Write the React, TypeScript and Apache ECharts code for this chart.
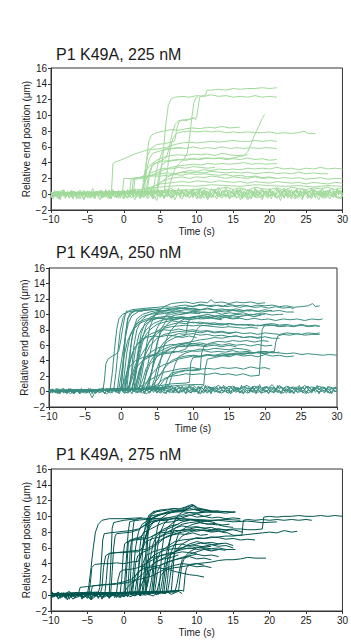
import React, { useEffect, useRef } from "react";
import * as echarts from "echarts";

const titles = ["P1 K49A, 225 nM", "P1 K49A, 250 nM", "P1 K49A, 275 nM"];
const lineColors = ["#a1d99b", "#3b8e80", "#02554f"];
const xName = "Time (s)";
const yName = "Relative end position (μm)";

// Baseline (unbound) noisy traces: start time, sample step, values
const p1Base = [
  { t0: -10, dt: 0.5, v: [0.1,-0.3,0.4,0.0,-0.2,0.3,-0.4,0.2,0.5,-0.1,0.2,-0.3,0.1,0.4,-0.2,0.3,-0.1,0.6,-0.3,0.2,0.0,-0.4,0.3,0.1,-0.2,0.4,-0.1,0.2,-0.3,0.5,0.1,-0.2,0.3,-0.4,0.2,0.0,0.4,-0.3,0.1,0.3,-0.2,0.5,-0.1,0.2,-0.4,0.3,0.1,-0.2,0.4,0.0,-0.3,0.2,0.6,-0.1,0.1,-0.4,0.3,0.2,-0.2,0.4,-0.1,0.3,-0.3,0.1,0.5,-0.2,0.2,0.0,-0.4,0.3,0.1,-0.2,0.4,-0.1,0.2,-0.3,0.5,0.0,-0.2,0.3,0.1] },
  { t0: -10, dt: 0.5, v: [-0.2,0.3,-0.1,0.5,-0.3,0.1,0.4,-0.2,0.2,-0.5,0.3,0.0,-0.2,0.4,-0.1,0.2,-0.4,0.3,0.1,-0.3,0.5,-0.1,0.2,-0.2,0.4,-0.3,0.0,0.3,-0.1,0.2,-0.4,0.3,0.1,-0.2,0.5,-0.1,0.2,-0.3,0.4,0.0,0.2,-0.2,0.3,-0.5,0.1,0.4,-0.1,0.2,-0.3,0.3,0.0,0.5,-0.2,0.2,-0.1,0.3,-0.4,0.1,0.4,-0.2,0.3,-0.1,0.0,0.5,-0.3,0.2,-0.2,0.4,0.1,-0.1,0.3,-0.4,0.2,0.0,0.4,-0.2,0.1,-0.3,0.3,0.2,-0.1] },
  { t0: -10, dt: 0.5, v: [0.3,-0.1,0.2,0.5,-0.2,0.1,0.4,-0.3,0.2,0.0,0.4,-0.2,0.3,0.1,-0.4,0.2,0.5,-0.1,0.3,0.0,0.4,0.1,0.6,0.2,0.5,-0.1,0.4,0.3,0.7,0.1,0.5,0.2,0.4,0.8,0.1,0.5,0.3,0.6,0.0,0.4,0.7,0.2,0.5,0.1,0.6,0.3,0.9,0.2,0.4,0.5,0.1,0.6,0.3,0.7,0.2,0.5,0.0,0.4,0.6,0.2,0.5,0.3,0.8,0.1,0.4,0.6,0.2,0.5,0.3,0.7,0.1,0.4,0.6,0.2,0.5,0.0,0.4,0.7,0.3,0.5,0.2] },
  { t0: -10, dt: 0.5, v: [-0.3,0.1,-0.5,-0.1,0.2,-0.4,0.0,-0.2,0.3,-0.6,-0.1,0.1,-0.3,0.2,-0.5,0.0,-0.2,0.1,-0.4,0.2,-0.1,-0.5,0.0,-0.2,0.2,-0.4,-0.1,0.1,-0.6,-0.2,0.1,-0.3,0.0,-0.5,-0.1,0.2,-0.3,0.0,-0.4,0.1,-0.2,-0.6,0.0,-0.1,-0.4,0.2,-0.3,-0.1,0.0,-0.5,-0.2,0.1,-0.3,0.0,-0.7,-0.1,0.2,-0.4,-0.2,0.1,-0.3,0.0,-0.5,-0.1,0.2,-0.3,-0.1,-0.6,0.0,-0.2,0.1,-0.4,-0.1,0.2,-0.3,-0.5,0.0,-0.2,0.1,-0.6,-0.1] },
  { t0: -10, dt: 0.25, v: [0.3,-0.4,0.5,-0.2,0.4,-0.5,0.2,0.6,-0.3,0.4,-0.1,0.5,-0.4,0.3,-0.6,0.4,0.1,-0.3,0.5,-0.2,
    0.4,-0.5,0.3,0.7,-0.2,0.4,-0.4,0.2,0.5,-0.3,0.6,-0.1,0.3,-0.5,0.4,0.0,-0.4,0.5,-0.2,0.3,
    -0.5,0.4,0.1,-0.3,0.6,-0.2,0.5,-0.4,0.3,-0.6,0.4,-0.1,0.5,-0.3,0.2,0.6,-0.4,0.3,-0.2,0.5,
    -0.3,0.4,-0.5,0.2,0.6,-0.1,0.4,-0.4,0.5,-0.2,0.3,-0.5,0.6,-0.1,0.4,-0.3,0.2,0.5,-0.4,0.3,
    -0.2,0.6,-0.4,0.3,-0.1,0.5,-0.5,0.4,0.0,-0.3,0.6,-0.2,0.4,-0.4,0.3,0.5,-0.3,0.2,-0.5,0.4,
    0.1,-0.4,0.5,-0.2,0.3,-0.6,0.4,0.2,-0.3,0.5,-0.1,0.4,-0.4,0.6,-0.2,0.3,-0.5,0.4,0.1,-0.3,
    0.5,-0.2,0.4,-0.4,0.3,0.6,-0.3,0.2,-0.5,0.4,-0.1,0.5,-0.3,0.3,-0.4,0.6,-0.2,0.4,-0.5,0.2,
    0.5,-0.3,0.4,-0.1,0.6,-0.4,0.3,-0.2,0.5,-0.5,0.4,0.1,-0.3,0.5,-0.2,0.3,-0.4,0.6,-0.1,0.4,-0.3] },
  { t0: -10, dt: 0.25, v: [-0.5,0.2,-0.3,0.4,-0.6,0.1,-0.2,0.5,-0.4,0.2,-0.5,0.3,-0.1,0.4,-0.3,0.1,-0.6,0.3,-0.2,0.2,
    -0.4,0.4,-0.2,0.1,-0.5,0.3,-0.3,0.5,-0.1,0.2,-0.4,0.3,-0.6,0.1,-0.2,0.4,-0.3,0.2,-0.5,0.1,
    0.5,-0.2,0.6,0.0,0.4,-0.3,0.7,0.1,0.5,-0.2,0.6,0.2,-0.1,0.5,0.0,0.7,-0.2,0.4,0.1,0.6,
    -0.1,0.5,0.2,0.7,-0.2,0.4,0.0,0.6,0.3,-0.1,0.8,0.1,0.5,-0.2,0.6,0.2,0.4,-0.1,0.7,0.0,
    0.5,0.2,0.8,-0.1,0.6,0.1,0.4,-0.2,0.7,0.3,0.5,0.0,0.6,-0.1,0.4,0.2,0.9,0.0,0.5,0.1,
    0.6,-0.2,0.5,0.2,0.7,0.0,0.4,-0.1,0.6,0.3,0.5,-0.2,0.8,0.1,0.4,0.0,0.6,0.2,0.5,-0.1,
    0.7,0.1,0.4,-0.2,0.6,0.3,0.5,0.0,0.8,-0.1,0.5,0.2,0.6,0.0,0.4,0.7,-0.2,0.5,0.1,0.6,
    0.0,0.5,0.2,0.7,-0.1,0.6,0.3,0.4,-0.2,0.8,0.1,0.5,0.0,0.6,0.2,0.4,-0.1,0.7,0.3,0.5,0.0] },
  { t0: -10, dt: 0.25, v: [-0.2,-0.6,0.1,-0.4,-0.1,-0.7,0.0,-0.3,-0.5,0.2,-0.4,-0.1,-0.6,0.0,-0.3,-0.5,0.1,-0.2,-0.7,-0.1,
    -0.4,0.1,-0.5,-0.2,-0.6,0.0,-0.3,-0.7,-0.1,-0.4,0.1,-0.5,-0.2,-0.6,0.0,-0.4,-0.1,-0.5,0.2,-0.3,
    -0.6,-0.1,-0.4,0.1,-0.5,-0.2,-0.7,0.0,-0.3,-0.5,0.1,-0.4,-0.1,-0.6,-0.2,0.0,-0.5,-0.3,-0.8,-0.1,
    -0.4,0.1,-0.6,-0.2,-0.3,0.0,-0.5,-0.1,-0.7,-0.2,0.1,-0.4,-0.6,-0.1,-0.3,0.0,-0.5,-0.2,-0.4,0.1,
    -0.6,-0.2,-0.4,0.0,-0.5,-0.1,-0.7,-0.3,0.1,-0.4,-0.2,-0.6,0.0,-0.3,-0.5,-0.1,-0.4,0.1,-0.6,-0.2,
    -0.3,0.0,-0.5,-0.2,-0.7,-0.1,-0.4,0.1,-0.5,-0.3,-0.6,0.0,-0.2,-0.5,-0.1,-0.4,-0.7,0.0,-0.3,-0.5,
    -0.1,-0.6,0.1,-0.3,-0.5,-0.2,-0.8,-0.1,-0.4,0.0,-0.5,-0.2,-0.6,0.1,-0.3,-0.5,-0.1,-0.4,-0.7,0.0,
    -0.3,-0.5,-0.1,-0.6,0.0,-0.4,-0.2,-0.7,-0.1,-0.3,0.1,-0.5,-0.2,-0.6,-0.1,-0.4,0.0,-0.5,-0.3,-0.6,-0.2] },
];

// Binding traces, flat [t, y, t, y, ...]
const p1Traces = [
  [-10,0.1, -1.7,0.2, -1.5,3.9, -1.2,4.1, -0.5,4.3, 0.5,4.7, 1.5,5.1, 2.5,5.4, 3.5,5.7, 4.5,5.7, 5.5,5.9, 6.5,5.8, 7.5,5.9, 8.5,5.8, 9.5,6.0, 10.5,5.8, 11.5,5.9, 12.5,5.8, 13.5,6.0, 14.5,5.8, 15.5,5.9, 16.5,5.8, 17.5,5.9, 18.5,5.8, 19.5,5.9, 21,5.8],
  [-10,0.2, 4.6,0.4, 4.9,2.0, 5.2,3.6, 5.5,6.2, 5.8,9.2, 6.1,11.3, 6.5,12.1, 7,12.3, 8,12.4, 9,12.3, 10,12.5, 11,12.4, 12,12.6, 13,12.4, 14,12.5, 15,12.3, 16,12.4, 17,12.3, 18,12.5, 19,12.3, 20,12.4, 21,12.3],
  [-10,0.1, 3.2,0.3, 3.5,2.4, 3.9,3.6, 4.5,4.0, 5.2,4.3, 5.8,4.6, 6.2,5.8, 6.6,7.6, 7,8.8, 7.5,9.3, 8,9.4, 8.5,9.3, 9,9.5, 9.5,9.6, 10,9.7, 10.2,11.0, 10.4,12.3, 10.8,12.5, 11.2,12.6, 11.4,13.2, 12,13.2, 13,13.3, 14,13.2, 15,13.4, 16,13.3, 17,13.4, 18,13.4, 19,13.5, 20,13.4, 21,13.5],
  [-10,0, 6,0.2, 6.5,1.8, 7,3.2, 7.6,3.9, 8.2,4.4, 8.7,5.2, 9,7.0, 9.3,9.5, 9.6,11.6, 9.9,12.2, 10.2,12.4],
  [-10,0.1, 2.5,0.3, 2.8,1.5, 3.1,4.2, 3.4,6.6, 3.8,7.5, 4.5,7.8, 5.5,8.0, 6.5,8.2, 7.5,8.1, 8.5,8.3, 9.5,8.4, 10.5,8.3, 11.5,8.5, 12.5,8.4, 13.5,8.6, 14.5,8.4, 15.9,8.5],
  [-10,0, 5.5,0.3, 5.9,2.6, 6.3,5.4, 6.7,7.0, 7.2,7.7, 8,7.9, 9,8.0, 10,7.9, 11,8.0, 12,7.9, 13,8.0, 14,7.8, 15,7.9, 16,7.8, 17,7.9, 18,7.8, 19,7.8, 20,7.9, 21,7.7, 22,7.8, 23,7.7, 24,7.8, 24.7,8.0, 25.3,7.7, 26.3,7.7],
  [-10,0.1, 4,0.2, 4.3,2.0, 4.7,4.0, 5.3,5.4, 6,6.0, 7,6.3, 8,6.5, 9,6.6, 10,6.5, 11,6.6, 12,6.7, 13,6.6, 14,6.7, 15,6.8, 16,6.7, 17,6.7, 18,6.8, 19,6.7, 20,6.8, 21,6.7],
  [-10,0, 3,0.2, 3.4,2.5, 3.9,3.8, 4.5,4.0, 5.5,4.2, 6.5,4.3, 7.5,4.4, 8.5,4.3, 9.5,4.5, 10.5,4.4, 11.5,4.6, 12.5,4.5, 13.5,4.6, 14.5,4.5, 15.5,4.7, 16.5,4.9, 17,5.4, 17.5,6.5, 18,7.6, 18.5,8.6, 19,9.6, 19.3,10.1],
  [-10,0.1, 4.5,0.3, 4.8,2.4, 5.2,3.7, 5.8,4.1, 7,4.3, 8,4.4, 9,4.5, 10,4.4, 11,4.6, 12,4.5, 13,4.6, 14,4.4, 15,4.5, 16,4.4, 17,4.6, 18,4.4, 19,4.5, 20,4.3, 21,4.4],
  [-10,0, 2.8,0.3, 3.1,3.0, 3.6,3.7, 4.5,4.3, 5.5,4.7, 6.5,4.9, 7.5,5.0, 8.5,4.9, 9.5,5.1, 10.5,5.0, 11.5,5.1, 12.5,4.9, 13.5,5.2, 14.5,5.0, 15.5,4.9, 17,5.0],
  [-10,0, 4,0.3, 5,1.4, 6,2.2, 7,2.6, 8,2.8, 9,3.0, 10,2.9, 11,3.1, 12,3.0, 13,3.2, 14,3.1, 15,3.2, 16,3.1, 17,3.3, 18,3.2, 19,3.3, 20,3.2, 21,3.4, 22,3.2, 23,3.3, 24,3.1, 25,3.3, 26,3.2, 27,3.4, 28,3.2, 29,3.3, 30,3.2],
  [-10,0.1, -0.2,0.2, 0,2.0, 1,2.0, 2,2.1, 3,2.2, 4,2.3, 5,2.3, 6,2.4, 7,2.5, 8,2.4, 9,2.6, 10,2.5, 11,2.6, 12,2.5, 13,2.4, 14,2.5, 15,2.3, 16,2.4, 17,2.2, 18,2.3, 19,2.1, 20,2.2, 21,2.0, 22,2.1, 23,2.0, 24,2.1, 25,1.9, 26,2.0, 27,2.1, 28,1.9, 29,2.0, 30,2.0],
  [-10,0, 1.1,0.2, 1.3,2.0, 2,2.1, 3,2.3, 4,2.4, 5,2.6, 6,2.7, 7,2.6, 8,2.8, 9,2.7, 10,2.8, 11,2.7, 12,2.9, 13,2.8, 14,2.7, 15,2.8, 16,2.7, 17,2.8, 18,2.6, 19,2.7, 20,2.8, 21,2.6, 22,2.7, 23,2.6, 24,2.8, 25,2.6, 26,2.7, 27,2.6, 28,2.6],
  [-10,0.1, 2,0.3, 3,0.7, 4,1.0, 5,1.3, 6,1.4, 7,1.5, 8,1.6, 9,1.5, 10,1.7, 11,1.6, 12,1.5, 13,1.7, 14,1.6, 15,1.5, 16,1.6, 17,1.4, 18,1.6, 19,1.5, 20,1.4, 21,1.6, 22,1.5, 23,1.4, 24,1.5, 25,1.3, 26,1.5, 27,1.4, 28,1.3, 29,1.5, 30,1.4],
  [-10,0, 1.3,0.2, 1.5,1.9, 2.5,2.0, 3.5,2.3, 4.5,2.7, 5.5,3.1, 6.5,3.4, 7.5,3.6, 8.5,3.7, 9.5,3.8, 10.5,3.7, 11.5,3.9, 12.5,3.8, 13.5,3.9, 14.5,3.8, 15.5,3.9, 16.5,4.0, 17.5,3.8, 18.5,3.9, 19.5,3.8, 21,3.9],
  [-10,0.1, 3,0.3, 4,0.9, 5,1.5, 6,1.9, 7,2.1, 8,2.2, 9,2.0, 10,2.2, 11,2.1, 12,2.3, 13,2.2, 14,2.0, 15,2.2, 16,2.1, 17,2.0, 18,2.2, 19,2.0, 20,2.1, 21,2.0],
  [-10,0, 0,0.3, 2,0.6, 4,0.8, 6,1.0, 8,1.1, 10,1.0, 12,1.2, 14,1.1, 16,1.0, 18,1.2, 20,1.1, 22,1.0, 24,1.1, 26,0.9, 28,1.1, 30,1.0],
  [-10,0.1, 1.5,0.2, 2.5,0.5, 3,1.8, 3.5,2.6, 4.5,3.0, 5.5,3.3, 6.5,3.2, 7.5,3.4, 8.5,3.3, 9.5,3.5, 10.5,3.4, 11.5,3.3, 12.5,3.4],
  [-10,0, 2.5,0.3, 2.7,1.8, 3,3.5, 3.3,5.0, 3.7,5.8, 4.5,6.3, 5.5,6.4, 6.5,6.6, 7,6.8, 7.3,8.5, 7.6,9.2, 8,9.4, 9,9.5, 9.5,9.7, 10,9.4],
  [-10,0.1, 0.8,0.3, 1,1.9, 1.5,2.0, 2.5,2.2, 3,2.6, 3.5,4.5, 4,5.2, 5,5.5, 6,5.7, 7,5.8, 8,5.9],
  [-10,0, 5,0.4, 10,0.6, 11,0.8, 12,0.5, 13,0.7, 14,0.9, 15,0.6, 16,0.8, 17,0.5, 18,0.9, 19,0.7, 20,0.6, 21,0.8, 22,0.5, 23,0.9, 24,0.7, 25,0.6, 26,0.8, 27,0.7, 28,0.9, 29,0.6, 30,0.8],
];

const p2Base = [
  { t0: -10, dt: 0.5, v: [0.0,0.2,-0.2,0.3,-0.1,0.1,-0.3,0.2,0.0,-0.2,0.3,-0.1,0.1,-0.2,0.2,0.0,-0.3,0.1,0.3,-0.1,0.2,-0.2,0.0,0.3,-0.1,0.1,-0.2,0.2,0.0,0.3,-0.1,0.2,-0.2,0.1,0.3,-0.1,0.0,0.2,-0.2,0.1,0.3,0.0,-0.1,0.2,-0.2,0.3,0.1,-0.1,0.2,0.0,-0.2,0.3,0.1,-0.1,0.2,-0.2,0.0,0.3,-0.1,0.1,0.2,-0.2,0.3,0.0,-0.1,0.2,0.1,-0.2,0.3,-0.1,0.0,0.2,-0.2,0.1,0.3,-0.1,0.2,0.0,-0.2,0.1,0.0] },
  { t0: -10, dt: 0.5, v: [-0.1,0.3,0.0,-0.2,0.2,-0.1,0.1,-0.3,0.3,0.0,-0.2,0.1,-0.8,0.2,-0.1,0.0,0.3,-0.2,0.1,-0.1,0.2,0.0,-0.2,0.3,0.1,-0.1,0.2,-0.3,0.0,0.2,0.1,-0.2,0.3,0.0,-0.1,0.2,-0.2,0.1,0.3,-0.1,0.0,0.2,-0.3,0.1,0.2,-0.1,0.3,0.0,-0.2,0.2,0.1,-0.1,0.4,0.0,-0.2,0.2,0.1,-0.1,0.3,-0.2,0.0,0.2,-0.1,0.3,0.1,-0.2,0.2,0.0,-0.1,0.3,0.1,-0.2,0.2,0.0,0.3,-0.1,0.1,0.2,-0.2,0.1,0.0] },
  { t0: -10, dt: 0.5, v: [0.1,0.3,-0.1,0.2,0.4,0.0,0.2,-0.1,0.3,0.1,0.0,0.3,0.1,-0.2,0.2,0.4,0.0,0.1,0.3,-0.1,0.2,0.4,0.1,0.3,0.5,0.2,0.4,0.1,0.6,0.3,0.4,0.2,0.5,0.3,0.7,0.2,0.4,0.5,0.3,0.6,0.4,0.2,0.5,0.8,0.3,0.4,0.6,0.2,0.5,0.4,0.7,0.3,0.5,0.2,0.6,0.4,0.3,0.7,0.5,0.2,0.6,0.4,0.5,0.3,0.8,0.4,0.2,0.5,0.6,0.3,0.5,0.4,0.7,0.2,0.5,0.3,0.6,0.4,0.2,0.5,0.3] },
  { t0: 3, dt: 0.5, v: [0.3,0.6,0.4,0.7,0.5,0.3,0.6,0.8,0.4,0.5,0.7,0.3,0.6,0.5,0.9,0.4,0.6,0.3,0.7,0.5,0.4,0.8,0.5,0.6,0.3,0.7,0.5,0.4,0.6,0.8,0.5,0.3,0.7,0.4,0.6,0.5,0.9,0.3,0.6,0.4,0.7,0.5,0.4,0.6,0.3,0.8,0.5,0.6,0.4,0.7,0.5,0.3,0.6,0.4,0.5] },
  { t0: -10, dt: 0.25, v: [0.2,-0.2,0.3,-0.1,0.4,-0.3,0.1,0.3,-0.2,0.2,-0.3,0.4,0.0,-0.2,0.3,-0.1,0.2,-0.3,0.4,-0.1,
    0.3,-0.2,0.1,0.4,-0.3,0.2,-0.1,0.3,-0.2,0.4,0.0,-0.3,0.2,-0.1,0.3,-0.2,0.4,-0.1,0.2,-0.3,
    0.3,0.0,-0.2,0.4,-0.1,0.2,-0.3,0.3,0.1,-0.2,0.4,-0.1,0.2,-0.3,0.3,0.0,-0.2,0.4,-0.1,0.2,
    -0.2,0.3,-0.1,0.4,0.0,-0.3,0.2,-0.1,0.3,-0.2,0.4,0.1,-0.2,0.3,-0.1,0.2,-0.3,0.4,0.0,-0.2,
    0.3,-0.1,0.2,-0.3,0.4,0.0,-0.2,0.3,-0.1,0.2,-0.3,0.4,-0.1,0.2,0.0,-0.2,0.3,-0.1,0.4,-0.2,
    0.2,-0.3,0.3,0.0,-0.1,0.4,-0.2,0.2,-0.3,0.3,0.1,-0.2,0.4,-0.1,0.2,-0.3,0.3,0.0,-0.2,0.4,
    -0.1,0.2,-0.3,0.3,0.1,-0.2,0.4,-0.1,0.2,-0.3,0.3,0.0,-0.2,0.4,-0.1,0.2,-0.3,0.3,-0.1,0.2,
    0.4,-0.2,0.1,-0.3,0.3,0.0,-0.2,0.4,-0.1,0.2,-0.3,0.3,0.1,-0.2,0.4,-0.1,0.2,-0.3,0.3,0.0,0.1] },
  { t0: -10, dt: 0.25, v: [-0.1,0.3,-0.2,0.2,0.0,0.4,-0.3,0.1,0.3,-0.2,0.2,-0.1,0.4,0.0,-0.2,0.3,0.1,-0.3,0.2,0.0,
    0.3,-0.2,0.4,0.1,-0.1,0.3,-0.2,0.2,0.4,0.0,0.5,0.1,0.4,-0.1,0.3,0.2,0.5,0.0,0.4,0.2,
    0.6,0.1,0.4,0.3,0.7,0.2,0.5,0.0,0.6,0.3,0.4,0.1,0.7,0.2,0.5,0.3,0.8,0.1,0.4,0.6,
    0.2,0.5,0.3,0.7,0.1,0.6,0.4,0.2,0.8,0.3,0.5,0.1,0.6,0.4,0.7,0.2,0.5,0.3,0.9,0.2,
    0.6,0.4,0.1,0.7,0.3,0.5,0.2,0.8,0.4,0.6,0.1,0.5,0.3,0.7,0.2,0.6,0.4,0.8,0.3,0.5,
    0.1,0.7,0.4,0.6,0.2,0.5,0.3,0.8,0.2,0.6,0.4,0.5,0.1,0.7,0.3,0.6,0.2,0.9,0.4,0.5,
    0.3,0.7,0.2,0.6,0.4,0.5,0.1,0.8,0.3,0.6,0.2,0.5,0.4,0.7,0.1,0.6,0.3,0.5,0.2,0.8,
    0.4,0.6,0.2,0.7,0.3,0.5,0.1,0.6,0.4,0.8,0.2,0.5,0.3,0.6,0.1,0.7,0.4,0.5,0.2,0.6,0.4] },
];

const p2Traces = [
  [-10,0.1, -2.5,0.2, -2.3,1.5, -2.1,3.6, -1.8,4.2, -1.2,4.6, -0.6,4.9, -0.3,5.3, 0,6.8, 0.3,8.6, 0.6,10.0, 0.8,10.5],
  [-10,0, -1,0.3, -0.7,2.5, -0.4,5.5, -0.1,8.0, 0.3,9.6, 0.8,10.3, 1.5,10.6, 2.5,10.7, 3.5,10.8, 5,10.9, 6,11.0, 7,10.9, 8,11.1, 9,11.2, 10,11.0, 11,11.3, 12,11.1, 13,11.2, 14,11.0, 15,11.3, 16,11.1, 17,11.2, 18,11.0, 19,11.2, 20,11.1, 21,11.2, 22,11.0, 23,11.1, 24,10.9, 25,11.0, 26,11.1, 26.6,11.4, 27,11.0, 27.6,11.1],
  [-10,0.1, 0,0.3, 0.3,3.0, 0.6,6.8, 0.9,9.4, 1.3,10.2, 2,10.5, 3,10.6, 4,10.7, 5,10.6, 6,10.8, 7,10.7, 8,10.9, 9,10.7, 10,10.8, 11,10.6, 12,10.8, 13,10.6, 14,10.7, 15,10.5, 16,10.7, 17,10.5, 18,10.6, 19,10.4, 20,10.6, 21,10.4, 22,10.5, 23,10.3, 24,10.3],
  [-10,0, 0.5,0.2, 1,3.5, 1.5,6.8, 2,8.6, 2.5,9.3, 3,9.7, 4,10.0, 5,10.1, 6,10.3, 7,10.2, 8,10.4, 9,10.2, 10,10.4, 11,10.3, 12,10.2, 13,10.3, 14,10.0, 15,10.2, 16,10.1, 17,10.2, 18,9.9, 19,10.1, 20,10.0],
  [-10,0.1, 1,0.3, 1.5,2.4, 2,5.3, 2.5,7.4, 3,8.3, 3.5,8.8, 4.5,9.3, 5.5,9.6, 6.5,9.8, 7.5,9.6, 8.5,9.7, 9.5,9.5, 10.5,9.7, 11.5,9.5, 12.5,9.6, 13.5,9.4, 14.5,9.6, 15.5,9.4, 16.5,9.5, 17.5,9.3, 18.5,9.5, 19.5,9.3, 20.5,9.4, 21.5,9.2, 22.5,9.4, 23.5,9.3, 24.5,9.4, 25.5,9.2, 26.5,9.4, 27.5,9.3, 28,9.4],
  [-10,0, 1.5,0.4, 2,2.0, 2.5,4.4, 3,6.4, 3.5,7.4, 4,8.0, 5,8.7, 6,9.0, 7,9.2, 8,9.0, 9,9.1, 10,8.9, 11,9.0, 12,8.8, 13,8.9, 14,8.7, 15,8.8, 16,8.6, 17,8.7, 18,8.5, 19,8.6, 20,8.5, 21,8.6, 22,8.4, 23,8.5, 24,8.4, 25,8.6, 26,8.4, 27,8.5, 27.6,8.5],
  [-10,0.1, 2,0.4, 2.5,2.0, 3,3.9, 3.5,5.0, 4,5.9, 5,6.9, 6,7.4, 7,7.6, 8,7.8, 9,7.7, 10,7.8, 11,7.6, 12,7.8, 13,7.6, 14,7.7, 15,7.5, 16,7.7, 17,7.5, 18,7.6, 19,7.4, 20,7.6, 21,7.5, 22,7.4, 23,7.6, 24,7.5, 25,7.4, 26,7.6, 27,7.5, 27.6,7.6],
  [-10,0, 2.5,0.3, 3,2.8, 3.5,5.8, 4,8.3, 4.5,9.5, 5,10.3, 6,11.0, 7,11.4, 8,11.5, 9,11.6, 10,11.4, 11,11.6, 12,11.5, 12.5,11.9, 13,11.5, 14,11.6, 15,11.4, 16,11.6, 17,11.5, 18,11.6, 19,11.4, 20,11.5],
  [-10,0.1, 3,0.4, 3.5,2.4, 4,4.8, 4.5,6.9, 5,8.2, 5.5,9.0, 6.5,10.1, 7.5,10.6, 8.5,10.8, 9.5,11.0, 10.5,11.1, 11.5,11.2, 12.5,11.0, 13.5,11.2, 14.5,11.0, 15.5,11.1, 16.5,10.9, 17.5,11.1, 18.5,10.9, 19.5,11.0, 20.5,10.8, 21.5,11.0, 22.5,10.8, 23.5,10.9, 24,10.7],
  [-10,0, 3.5,0.3, 4,1.9, 4.5,3.4, 5,4.8, 5.5,5.8, 6,6.4, 7,7.2, 8,7.5, 9,7.4, 10,7.5, 11,7.3, 12,7.4, 13,7.2, 14,7.3, 15,7.1, 16,7.2, 17,7.0, 18,7.1, 19,7.0, 19.5,7.1],
  [-10,0.1, 4,0.4, 5,0.9, 6,1.7, 7,2.0, 8,2.1, 9,2.3, 10,2.2, 11,2.3, 12,2.2, 13,2.4, 14,2.2, 15,2.3, 16,2.1, 17,2.3, 18,2.0, 19.2,2.1, 19.4,5.0, 19.6,8.0, 20,8.7, 21,8.8, 22,8.6, 23,8.7, 24,8.5, 25,8.7, 26,8.5, 27,8.6, 27.6,8.4],
  [-10,0, 5,0.3, 6,1.5, 7,2.1, 8,2.5, 9,2.7, 10,2.8, 11,2.9, 12,3.0, 13,2.9, 14,3.1, 15,3.0, 16,3.1, 17,2.9, 18,3.2, 19,3.0, 20,3.1, 20.7,2.9],
  [-10,0.1, 2,0.3, 2.5,2.4, 3,3.9, 3.5,4.5, 4.5,4.8, 5.5,5.0, 6.5,5.1, 7.5,5.2, 8.5,5.1, 9.5,5.3, 10.5,5.2, 11.5,5.3, 12.5,5.1, 13.5,5.2, 14.5,5.1, 15.5,5.3, 16.5,5.1, 17.5,5.2, 18.5,5.0, 19.5,5.2, 20.5,5.1, 21.3,5.2, 21.5,6.4, 21.8,7.2, 22.5,7.4, 23.5,7.3, 24.5,7.5, 25.5,7.3, 26.5,7.4, 27.6,7.4],
  [-10,0, 4,0.4, 5,1.5, 6,3.0, 7,4.0, 8,4.4, 9,4.6, 10,4.7, 11,4.6, 12,4.8, 13,4.7, 14,4.9, 15,4.8, 16,5.0, 17,4.9, 18,5.1, 19,5.0, 20,4.9, 21,5.1, 22,5.0, 23,4.9, 24,5.0, 25,4.8, 26,4.9, 27,4.8, 28,4.7, 29,4.8, 30,4.7],
  [-10,0.1, 3,0.3, 5,0.7, 7,1.0, 9,1.1, 9.5,1.2, 9.7,3.8, 10,4.4, 11,4.5, 12,4.7, 13,4.6, 14,4.7, 15,4.5, 16,4.8, 17,4.6, 18,4.7, 19,4.5, 20,4.8, 21,4.6, 22,4.7, 23,4.5, 24,4.6],
  [-10,0, 4,0.3, 6,0.6, 8,0.8, 10,0.9, 11.5,0.9, 11.7,3.0, 12,4.2, 13,4.4, 14,4.6, 15,4.7, 16,4.9, 17,4.8, 18,5.0, 19,5.1, 20,5.2, 21,5.0, 22,5.1],
  [-10,0.1, 1,0.3, 1.5,1.5, 2,3.0, 3,4.0, 4,4.5, 5,5.0, 6,5.5, 7,5.9, 8,6.2, 9,6.3, 10,6.2, 11,6.3, 12,6.1, 13,6.2, 14,6.0, 15,6.2, 16,6.0, 17,6.1, 18,5.9, 19,6.1, 20,5.9, 21,6.0],
  [-10,0, 0,0.3, 0.5,1.5, 1,3.0, 2,4.0, 3,4.4, 4,4.6, 5,4.7, 6,4.9, 7,5.0, 8,5.2, 9,5.5, 10,6.8, 10.5,8.0, 11,8.5, 12,8.6, 13,8.7, 14,8.6, 15,8.8, 16,8.7, 17,8.6, 18,8.7, 19,8.5, 20,8.7, 21,8.6, 22,8.5, 23,8.5],
  [-10,0.1, 4.5,0.4, 5,2.0, 5.5,4.0, 6,6.0, 6.5,7.2, 7,8.0, 8,9.0, 9,9.5, 10,9.7, 11,9.8, 12,10.0, 13,9.8, 14,9.9, 15,9.8, 16,10.0, 17,9.9, 18,10.0, 19,9.9, 20,10.1, 21,9.9, 22,10.0, 22.5,10.0],
  [-10,0, 5,0.4, 5.5,1.5, 6,3.0, 7,5.0, 8,6.0, 9,6.3, 10,6.5, 11,6.7, 12,6.8, 13,7.0, 14,6.9, 15,7.1, 16,7.2, 17,7.0, 18,7.1, 19,6.9, 20,7.1, 21,6.9, 22,6.9],
  [-10,0.1, 1.5,0.3, 2,2.5, 2.5,5.0, 3,7.0, 3.5,8.5, 4.5,9.8, 5.5,10.4, 6.5,10.6, 7.5,10.7, 8.5,10.8, 9.5,10.7, 11,10.6],
  [-10,0, 6,0.3, 6.5,1.8, 7,2.4, 8,2.6, 9,2.8, 10,2.7, 11,2.8, 11.2,5.0, 11.6,6.0, 12.5,6.3, 13.5,6.5, 14.5,6.4, 15.5,6.6, 16.5,6.5, 17.5,6.6, 18.5,6.4, 19.5,6.6, 20.5,6.5],
  [-10,0.1, 2.5,0.3, 3,1.5, 3.5,3.0, 4.5,4.5, 5.5,5.5, 6.5,6.5, 7.5,7.0, 8.5,7.2, 9,7.3, 9.3,9.0, 9.7,9.5, 10.5,9.7, 11.5,9.8, 12.5,9.6, 13.5,9.8, 14.5,9.6, 15.5,9.8, 16.5,9.7, 17.5,9.9, 18.5,9.7, 19.5,9.9],
  [-10,0, 0,0.3, 0.3,4.0, 0.6,7.5, 1,9.5, 1.5,10.2, 2,10.4, 3,10.5, 4.5,10.6],
  [-10,0.1, -0.5,0.3, -0.2,2.5, 0.2,4.8, 0.6,7.0, 1,8.8, 1.5,9.8, 2.5,10.4, 4,10.6, 5.5,10.7],
  [-10,0, 3,0.3, 3.5,1.0, 4,2.0, 5,3.0, 6,3.5, 7,3.8, 8,4.2, 9,4.4, 10,4.6, 11,4.5, 12,4.8, 13,4.6, 14,4.7, 15,4.9, 16,4.8, 17,5.0, 18,4.9, 19,5.1, 20,5.0, 21,5.1],
  [-10,0.1, 1,0.3, 1.5,2.0, 2,3.5, 3,5.0, 4,6.5, 5,7.5, 6,8.2, 7,8.4, 8,8.5, 9,8.6, 10,8.5, 11,8.6, 12,8.5, 13,8.4, 14,8.3, 15,8.4, 16,8.3, 17,8.2, 18,8.3, 19,8.2],
  [-10,0, 3.5,0.3, 4,1.5, 4.5,3.5, 5,6.0, 5.5,8.0, 6.5,9.5, 7.5,9.9, 8.5,10.0, 9.5,10.2, 10.5,10.1, 11.5,10.3, 12.5,10.2, 13.5,10.4, 14.5,10.3, 15.5,10.5, 16.5,10.4, 17.5,10.5, 18,10.4],
  [-10,0.1, 2,0.3, 3,0.8, 4,1.5, 5,2.0, 6,2.5, 7,2.7, 8,2.9, 9,3.0, 10,3.1, 11,2.9],
  [-10,0, 6.5,0.4, 7,1.8, 7.5,3.5, 8,4.5, 9,5.0, 10,5.3, 11,5.5, 12,5.4, 13,5.6, 14,5.5, 15,5.4, 16,5.6, 17,5.5, 18,5.3],
  [-10,0.1, 0.8,0.3, 1.1,3.0, 1.4,6.0, 1.7,8.0, 2.2,9.4, 3,10.0, 4,10.3, 5,10.5, 6,10.4, 7,10.6],
  [-10,0, 1.8,0.3, 2.1,2.5, 2.4,5.0, 2.8,6.8, 3.5,8.0, 4.5,8.8, 5.5,9.2, 6.5,9.4, 7.5,9.3, 8.5,9.5, 9.5,9.3],
  [-10,0, 0.2,0.3, 0.5,2.5, 0.8,5.0, 1.2,7.0, 1.8,8.3, 2.5,9.0, 3.5,9.4, 5,9.6, 6.5,9.7, 8,9.5, 9.5,9.6, 11,9.4, 12.5,9.5, 14,9.3],
  [-10,0.1, 1.2,0.3, 1.5,3.0, 1.8,6.0, 2.2,8.0, 2.8,9.2, 3.5,9.8, 4.5,10.2, 6,10.5, 7.5,10.4, 9,10.6, 10.5,10.5, 12,10.7, 13.5,10.5, 15,10.6, 16.5,10.4, 18,10.5, 19.5,10.3, 21,10.5],
  [-10,0, 2.2,0.3, 2.6,1.8, 3,3.8, 3.5,5.5, 4,6.6, 5,7.8, 6,8.4, 7,8.7, 8,8.9, 9,8.8, 10,9.0, 11,8.8, 12,8.9, 13,8.7, 14,8.8, 15,8.6],
  [-10,0.1, 0.3,0.2, 0.6,1.5, 1,3.2, 1.5,4.8, 2,5.8, 3,6.8, 4,7.4, 5,7.8, 6,8.0, 7,7.9, 8,8.1, 9,7.9, 10,8.0, 11,7.8, 12,7.9, 13,7.7, 14,7.8, 15,7.6, 16,7.7],
  [-10,0, 1.6,0.4, 2,2.8, 2.4,5.5, 2.8,7.5, 3.3,8.8, 4,9.6, 5,10.0, 6,10.1, 7,10.0, 8,10.2, 9,10.1, 10,10.3, 11,10.1],
  [-10,0.1, 3.8,0.4, 4.2,2.2, 4.6,4.5, 5,6.3, 5.5,7.6, 6.5,8.8, 7.5,9.4, 8.5,9.6, 9.5,9.5, 10.5,9.7, 11.5,9.6, 12.5,9.8, 13.5,9.6, 14.5,9.7, 15.5,9.5, 16.5,9.6],
  [-10,0, -0.3,0.3, 0,2.0, 0.4,4.5, 0.9,6.5, 1.5,7.8, 2.5,8.8, 3.5,9.2, 5,9.5, 6.5,9.4, 8,9.6, 9.5,9.3, 11,9.5],
  [-10,0.1, 2.8,0.3, 3.2,1.2, 3.6,2.5, 4,3.5, 5,4.5, 6,5.2, 7,5.6, 8,5.8, 9,6.0, 10,5.9, 11,6.1, 12,5.9, 13,6.0, 14,5.8, 15,6.0, 16,5.8],
  [-10,0, 0.6,0.3, 0.9,2.0, 1.3,4.0, 1.8,5.5, 2.5,6.4, 3.5,7.0, 4.5,7.2, 5.5,7.1, 6.5,7.3, 7.5,7.2, 8.5,7.0, 9.5,7.2, 10.5,7.0],
  [-10,0.1, 4.2,0.4, 4.6,1.5, 5,3.0, 5.5,4.2, 6,5.0, 7,5.6, 8,5.9, 9,5.8, 10,6.0, 11,5.9, 12,5.8],
  [-10,0, -1.5,0.3, -1.2,2.5, -0.9,5.5, -0.6,8.0, -0.3,9.4, 0.2,10.0, 1,10.3, 2,10.5, 3,10.4],
  [-10,0.1, 1.8,0.3, 2.2,1.5, 2.6,3.0, 3.2,4.2, 4,5.0, 5,5.6, 6,5.9, 7,6.1, 8,6.0, 9,6.2, 10,6.0, 11,6.1],
];

const p3Base = [
  { t0: -10, dt: 0.5, v: [0.1,-0.2,0.3,0.0,-0.3,0.2,-0.1,0.4,-0.2,0.1,-0.4,0.2,0.0,0.3,-0.2,0.1,-0.3,0.2,0.4,-0.1,0.2,0.0,-0.2,0.3,0.1,0.4,0.0,0.2,0.5,0.1,0.3,0.2,0.4,0.1,0.3,0.5,0.2] },
  { t0: -10, dt: 0.5, v: [-0.2,0.2,-0.1,0.3,-0.4,0.1,0.2,-0.3,0.0,0.3,-0.1,-0.5,0.2,-0.2,0.1,0.3,-0.3,0.0,-0.1,0.2,-0.2,0.1,0.3,-0.1,0.2,0.0,0.3,0.1,-0.1,0.2,0.3] },
  { t0: -10, dt: 0.5, v: [0.6,0.0,0.4,-0.1,0.2,0.5,-0.2,0.3,0.1,-0.3,0.2,0.4,0.0,-0.2,0.3,0.1,-0.1,0.4,0.0,0.2,-0.2,0.3,0.1,0.0,0.2] },
  { t0: -10, dt: 0.5, v: [-0.3,0.1,-0.4,0.0,-0.2,0.2,-0.5,-0.1,0.1,-0.3,0.0,-0.6,-0.2,0.1,-0.3,0.0,-0.2,0.2,-0.1,-0.3,0.0] },
  { t0: -10, dt: 0.25, v: [0.3,-0.3,0.2,-0.1,0.4,-0.4,0.1,0.3,-0.2,0.2,-0.5,0.3,0.0,-0.3,0.4,-0.1,0.2,-0.4,0.3,-0.2,
    0.1,0.4,-0.3,0.2,-0.1,0.3,-0.4,0.2,0.0,-0.3,0.4,-0.2,0.3,-0.1,0.2,-0.3,0.4,0.0,-0.2,0.3,
    -0.1,0.4,-0.2,0.3,0.1,-0.1,0.5,0.0,0.3,-0.1,0.4,0.1,0.2,0.5,0.0,0.4,0.2,0.3,0.6,0.1,0.4] },
  { t0: -10, dt: 0.25, v: [-0.4,0.1,-0.2,0.3,-0.5,0.0,-0.3,0.2,-0.1,-0.6,0.1,-0.3,0.2,-0.4,0.0,-0.2,0.3,-0.5,-0.1,0.1,
    -0.3,0.2,-0.4,0.0,-0.2,0.3,-0.3,0.1,-0.5,0.0,-0.2,0.2,-0.4,0.1,-0.1,0.3,-0.3,0.0,-0.2,0.2,
    -0.1,0.3,-0.2,0.2,0.0,0.4,-0.1,0.3,0.1,-0.1,0.4,0.0,0.2,0.3,0.1,0.5,0.2,0.3,0.1,0.4,
    0.2,0.5,0.3,0.2,0.5,0.3,0.6,0.4,0.5] },
];

const p3Traces = [
  [-10,0.1, -5,0.2, -4.8,1.2, -4.5,3.5, -4.2,6.0, -3.9,8.0, -3.5,9.0, -3,9.5, -2,9.7, 0,9.7, 2,9.8, 4,9.7, 6,9.8, 8,9.7, 10,9.6, 12,9.5, 14,9.6, 16,9.5],
  [-10,0, -4.8,0.3, -4.6,1.5, -4.4,3.5, -4,3.9, -3,4.0, -2,4.0, -1,4.1, 0,4.0, 1,4.2, 2,4.3, 2.5,5.5, 3,7.5, 3.5,8.5, 4,9.2, 5,9.6, 6,9.8, 7,10.0, 8,10.2, 9,10.5, 10,10.4, 11,10.5, 12,10.6, 13,10.5, 14,10.4, 15.3,10.6],
  [-10,0.2, -3.5,0.4, -3.3,1.0, -3.1,4.0, -2.9,7.0, -2.7,7.8, -2,7.9, -1,8.0, 0,8.1, 1,8.2, 2,8.4, 3,8.9, 4,9.4, 5,9.6, 6,9.5],
  [-10,0.1, -2.6,0.3, -2.4,2.0, -2.2,4.5, -2,5.3, -1,5.4, 0,5.5, 1,5.6, 2,5.7, 3,5.8, 4,6.3, 5,7.0, 6,7.5, 7,7.8, 8,8.0, 9,8.2, 10,8.1, 11,8.3, 12,8.1, 13,8.2, 14,8.0, 15,7.6, 16.2,7.6, 16.4,9.5, 17,9.6, 18,9.5, 19,9.6, 20,9.5, 21,9.6, 22,9.5, 23,9.6, 24,9.5, 25,9.6, 25.8,9.5],
  [-10,0, 3,0.3, 3.3,2.0, 3.6,4.5, 4,6.5, 4.5,7.5, 5,7.9, 6,8.0, 7,8.2, 8,8.2, 9,8.3, 10,8.3, 11,8.2, 12,8.2, 13,8.4, 14,8.3, 15,8.4, 16,8.4, 17,8.3, 18,8.3, 19,8.4, 19.2,9.9, 20,10.0, 21,9.9, 22,10.0, 23,10.0, 24,10.1, 25,10.0, 26,10.0, 27,10.1, 28,10.0, 29,10.1, 30,10.0],
  [-10,0.1, 4,0.3, 4.3,2.5, 4.6,4.5, 5,5.5, 6,6.2, 7,6.8, 8,7.0, 9,7.1, 10,7.2, 11,7.2, 12,7.3, 13,7.4, 14,7.5, 15,7.5, 16,7.6, 17,7.7, 18,7.8, 19,7.9, 20,8.0, 21,7.9, 22,8.2, 23,8.0, 23.8,8.1],
  [-10,0, 2.5,0.3, 2.8,3.0, 3.1,6.5, 3.4,9.0, 3.8,10.2, 4.5,10.6, 6,10.8, 7,11.0, 8,10.9, 9,11.3, 9.5,11.2, 10,10.8, 11,10.6, 12,10.5, 14,10.6, 15,10.5],
  [-10,0.1, 0,0.3, 0.3,4.0, 0.6,8.0, 0.8,9.3, 1.5,9.5, 3,9.6, 5,9.5, 7,9.7, 9,9.6, 11,9.4, 13,9.5, 15,9.3, 17,9.4, 19,9.2, 21,9.3],
  [-10,0, -1.8,0.3, -1.6,3.0, -1.4,6.0, -1.2,7.5, -1,7.8, 0,7.9, 1,8.0, 2,8.3, 3,9.0, 4,9.8, 5,10.2, 6,10.5, 8,10.7, 10,10.9, 12,10.7, 14,10.6, 15.3,10.5],
  [-10,0.1, -6.2,0.3, -6,1.0, -5,1.1, -4,1.2, -3,1.3, -2,1.4, -1,1.5, 0,1.7, 1,2.0, 2,2.8, 3,4.0, 4,5.0, 5,5.5, 6,5.8, 7,5.9, 8,6.0, 9,5.9, 10,6.1, 11,6.0, 12,5.9, 13,6.0, 14,5.8, 15.3,5.8],
  [-10,0, 2,0.3, 2.5,1.5, 3,2.5, 3.5,3.2, 4.5,3.5, 6,3.3, 7,3.0, 8,2.8, 9,2.6, 10,2.5, 11,2.3],
  [-10,0.1, -2,0.1, 0,0.2, 2,0.3, 4,0.4, 6,0.5, 7,0.6, 8,0.6, 8.2,0.5, 8.4,2.5, 8.6,3.5, 9,3.8, 10,4.0, 11,4.1, 12,4.2, 13,4.4, 14,4.5, 15,4.5, 16,4.6, 17,4.8, 18,4.7, 19.5,4.7],
  [-10,0, 1,0.3, 1.3,3.0, 1.6,6.0, 2,8.0, 2.5,9.0, 3.5,9.6, 5,10.2, 6,10.6, 7,10.8, 8,10.7, 9,11.0, 10,10.8, 11,10.5],
  [-10,0.1, 1.5,0.3, 1.8,2.0, 2.2,4.5, 2.6,6.0, 3,6.8, 4,7.2, 5,7.4, 6,7.8, 7,8.0, 8,8.3, 9,8.4, 10,8.6, 11,8.5, 12,8.3, 13,8.4, 14,8.2, 15,8.3, 16.3,8.0],
  [-10,0, 2,0.4, 2.3,2.0, 2.6,4.0, 3,5.0, 4,5.5, 5,5.8, 6,6.0, 7,6.4, 8,6.5, 9,6.2, 10,6.3, 11,6.1, 12,6.2],
  [-10,0.1, 3,0.4, 3.3,1.5, 3.6,3.0, 4,4.0, 5,4.5, 6,5.0, 7,5.5, 8,6.0, 9,6.5, 10,6.8, 11,6.6, 12,6.7, 13,6.5, 14,6.6, 15,6.3],
  [-10,0, 4,0.4, 4.3,3.0, 4.6,6.0, 5,8.0, 5.5,9.0, 6,9.5, 7,9.8, 8,10.0, 9,10.2, 10,9.9, 11,10.0, 12,9.8, 13,9.9, 14,9.7, 15,9.8, 16,9.7],
  [-10,0.1, 5,0.4, 5.3,2.0, 5.6,4.0, 6,6.0, 6.5,7.5, 7,8.5, 8,9.0, 9,9.2, 10,9.3, 11,9.1, 12,9.0, 13,8.9, 14,8.7, 15,8.6],
  [-10,0, 6,0.4, 6.3,2.0, 6.6,4.0, 7,5.5, 8,6.5, 9,7.0, 10,7.3, 11,7.2, 12,7.4, 13,7.3, 14,7.1, 15,7.2, 16,7.0, 17,7.1, 18,7.0],
  [-10,0.1, 0,0.3, 0.5,1.0, 1,1.5, 1.5,1.8, 2,2.0, 3,2.2, 4,2.5, 5,3.0, 6,3.5, 7,3.8, 8,4.0, 9,3.9, 10,4.0, 11,3.8],
  [-10,0, 0.5,0.3, 0.7,3.0, 0.9,6.0, 1.1,7.0, 1.5,7.2, 2,7.3, 2.5,7.5, 3,8.5, 3.5,10.0, 4,10.6, 5,10.8, 6,10.9, 7,11.0],
  [-10,0.1, 5.5,0.4, 5.8,2.5, 6.1,5.5, 6.5,8.0, 7,9.5, 7.5,10.2, 8.5,10.8, 9.5,11.4, 10,11.1, 11,10.9, 12,10.7],
  [-10,0, -3.2,0.3, -3,1.0, -2.8,3.5, -2.5,5.0, -2,5.3, -1,5.4, 0,5.4, 1,5.5, 2,5.5, 2.5,6.0, 3,7.5, 3.5,8.8, 4,9.3, 5,9.5, 6,9.4],
  [-10,0.1, -1,0.3, -0.8,2.0, -0.5,3.0, 0,3.2, 1,3.3, 2,3.5, 3,4.0, 4,4.5, 5,5.0, 6,5.2, 7,5.3, 8,5.5, 9,5.4, 10,5.3],
  [-10,0, 7,0.4, 7.3,1.5, 7.6,3.0, 8,4.5, 9,5.5, 10,6.0, 11,6.2, 12,6.4, 13,6.2, 14,6.3, 15,6.0],
  [-10,0.1, 4.5,0.3, 4.8,1.5, 5.1,2.5, 5.5,3.0, 6,3.3, 7,3.5, 8,3.6, 9,3.8, 10,3.6, 11,3.7, 12,3.5],
  [-10,0, 3.5,0.4, 3.8,2.0, 4.1,4.5, 4.4,6.5, 5,7.5, 6,8.0, 7,8.5, 8,8.8, 9,8.6, 10,8.7, 11,8.5, 12,8.6, 13,8.3],
  [-10,0.1, 1,0.4, 1.3,1.5, 1.6,2.5, 2,3.0, 3,3.5, 4,3.6, 5,3.8, 6,4.2, 7,4.5, 8,4.8, 9,5.0, 10,5.2, 11,5.0, 12,5.1, 13,4.9],
  [-10,0, 2.2,0.4, 2.4,3.0, 2.6,6.0, 2.8,8.0, 3.1,9.5, 3.5,10.2, 4,10.5, 5,10.7],
  [-10,0.1, -2,0.3, -1.8,4.0, -1.6,8.5, -1.4,9.2, -1,9.3, 0,9.5, 1,9.6, 2,9.5],
  [-10,0, 0.8,0.3, 1,4.0, 1.2,8.0, 1.4,9.4, 1.8,9.7, 2.5,9.8],
  [-10,0.1, -4.5,0.4, -4.3,1.2, -3,1.3, -1,1.4, 0.5,1.6, 1.5,1.9, 2.5,2.6, 3.5,3.6, 4.5,4.3, 5.5,4.6, 6.5,4.8, 7.5,5.1],
  [-10,0, 0.2,0.3, 0.4,3.5, 0.6,6.5, 0.8,7.0, 1.5,7.1, 2.5,7.3, 3,7.2, 3.3,9.0, 3.6,10.0, 4.5,10.2, 5.5,10.4, 6.5,10.5, 8,10.6, 9.5,10.4, 11,10.5],
  [-10,0.1, 1.8,0.3, 2,3.0, 2.2,6.0, 2.4,7.5, 2.8,8.0, 3.5,8.3, 4.5,8.8, 5.5,9.2, 6.5,9.3, 7.5,9.5, 8.5,9.4, 9.5,9.6, 10.5,9.3, 11.5,9.4, 12.5,9.2],
  [-10,0, 3,0.3, 3.2,2.5, 3.4,5.0, 3.6,6.8, 4,7.5, 5,8.0, 6,8.4, 7,8.8, 8,9.3, 9,9.6, 10,9.4, 11,9.5, 12,9.3],
  [-10,0.1, 3.8,0.3, 4,2.0, 4.2,5.0, 4.4,7.5, 4.7,9.0, 5.2,9.8, 6,10.3, 7,10.6, 8,10.8, 9,11.1, 9.5,11.5, 10,11.0, 11,10.8, 12,10.6, 13,10.7],
  [-10,0, 4.8,0.4, 5,2.5, 5.2,5.5, 5.5,7.5, 6,8.6, 7,9.4, 8,9.8, 9,10.1, 10,10.3, 11,10.0, 12,10.2],
  [-10,0.1, 5.8,0.4, 6,2.0, 6.2,4.0, 6.5,5.5, 7,6.5, 8,7.5, 9,8.0, 10,8.3, 11,8.2, 12,8.0, 13,8.1, 14,7.9],
  [-10,0, 1.2,0.3, 1.4,2.0, 1.6,4.0, 1.9,5.0, 2.5,5.4, 3.5,5.8, 4.5,6.4, 5.5,7.2, 6.5,7.6, 7.5,7.8, 8.5,7.7, 9.5,7.9, 10.5,7.6, 11.5,7.7],
  [-10,0.1, 2.6,0.3, 2.8,1.5, 3,3.5, 3.3,4.5, 4,4.8, 5,5.0, 6,5.3, 7,5.5, 8,5.8, 9,6.0, 10,5.8, 11,5.9, 12,5.7, 13,5.8],
  [-10,0, 4.2,0.3, 4.4,1.5, 4.6,3.0, 5,3.8, 6,4.2, 7,4.5, 8,4.7, 9,4.9, 10,4.6, 11,4.7, 12,4.5],
  [-10,0.1, 6.5,0.5, 6.7,2.5, 6.9,5.0, 7.2,7.0, 7.6,8.0, 8.5,8.6, 9.5,9.0, 10.5,9.2, 11.5,9.0, 12.5,9.1, 13.5,8.9, 14.5,9.0],
  [-10,0, -0.5,0.3, -0.3,2.0, -0.1,5.0, 0.1,6.5, 0.5,6.8, 1.5,7.0, 2.5,7.1, 3.5,7.3, 4.5,7.8, 5.5,8.4, 6.5,8.8, 7.5,9.0],
  [-10,0.1, 2.9,0.3, 3.1,4.0, 3.3,7.5, 3.5,9.0, 3.9,9.8, 4.5,10.1, 5.5,10.3, 6.5,10.5, 7.5,10.9, 8.5,11.2, 9.3,11.5, 10,11.2],
  [-10,0, 5.3,0.4, 5.5,2.0, 5.7,3.5, 6,4.5, 6.5,5.2, 7.5,5.8, 8.5,6.2, 9.5,6.4, 10.5,6.6, 11.5,6.5, 12.5,6.4, 13.5,6.6],
  [-10,0.1, 7.5,0.5, 7.7,2.0, 7.9,3.5, 8.2,4.5, 9,5.2, 10,5.5, 11,5.8, 12,5.6, 13,5.8, 14,5.7],
];

const panels = [
  { base: p1Base, traces: p1Traces },
  { base: p2Base, traces: p2Traces },
  { base: p3Base, traces: p3Traces },
];

const grids = [
  { left: 51, top: 68, width: 292, height: 142 },
  { left: 49, top: 268, width: 288, height: 139 },
  { left: 51, top: 469, width: 293, height: 142 },
];
const titleTops = [46, 244, 446];

function toPairs(flat: number[]) {
  const out: number[][] = [];
  for (let i = 0; i + 1 < flat.length; i += 2) out.push([flat[i], flat[i + 1]]);
  return out;
}
function fromBase(b: { t0: number; dt: number; v: number[] }) {
  return b.v.map((y, i) => [b.t0 + i * b.dt, y]);
}
const minus = (v: number) => String(v).replace("-", "\u2212");
const FONT = "'Liberation Sans', Arial, Helvetica, sans-serif";

export default function App() {
  const ref = useRef<HTMLDivElement>(null);
  useEffect(() => {
    if (!ref.current) return;
    const chart = echarts.init(ref.current, undefined, { renderer: "svg" });
    const series: any[] = [];
    panels.forEach((p, i) => {
      const all = [...p.base.map(fromBase), ...p.traces.map(toPairs)];
      all.forEach((data) => {
        series.push({
          type: "line",
          xAxisIndex: i,
          yAxisIndex: i,
          data,
          showSymbol: false,
          symbol: "none",
          silent: true,
          clip: true,
          lineStyle: { width: 1, color: lineColors[i] },
        });
      });
    });
    const axisCommon = {
      nameLocation: "middle",
      nameMoveOverlap: false,
      nameTextStyle: { fontSize: 10, color: "#1a1a1a", fontFamily: FONT },
      axisLine: { show: true, onZero: false, lineStyle: { color: "#333", width: 1 } },
      axisTick: { show: true, inside: false, length: 3, lineStyle: { color: "#333" } },
      axisLabel: { fontSize: 10, color: "#1a1a1a", margin: 4, formatter: minus, fontFamily: FONT },
      splitLine: { show: false },
    };
    chart.setOption({
      animation: false,
      backgroundColor: "#ffffff",
      textStyle: { fontFamily: FONT },
      title: titles.map((t, i) => ({
        text: t,
        left: 56,
        top: titleTops[i],
        padding: 0,
        textStyle: { fontSize: 16, fontWeight: "normal", color: "#1a1a1a", fontFamily: FONT },
      })),
      grid: grids.map((g) => ({
        ...g,
        show: true,
        borderColor: "#333",
        borderWidth: 1,
        backgroundColor: "transparent",
        containLabel: false,
      })),
      xAxis: grids.map((_, i) => ({
        ...axisCommon,
        type: "value",
        gridIndex: i,
        min: -10,
        max: 30,
        interval: 5,
        name: xName,
        nameGap: 16,
      })),
      yAxis: grids.map((_, i) => ({
        ...axisCommon,
        type: "value",
        gridIndex: i,
        min: -2,
        max: 16,
        interval: 2,
        name: yName,
        nameGap: 20,
      })),
      series,
    });
    return () => chart.dispose();
  }, []);
  return (
    <div
      ref={ref}
      style={{ position: "absolute", left: 0, top: 0, width: 351, height: 640, background: "#fff" }}
    />
  );
}
